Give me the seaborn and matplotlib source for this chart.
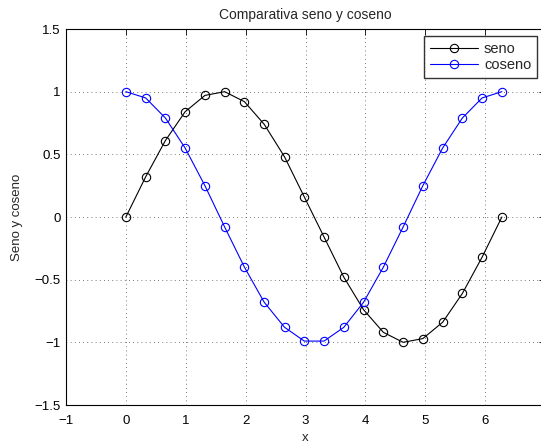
import matplotlib
matplotlib.use("Agg")
import matplotlib.pyplot as plt
import seaborn as sns
import pandas as pd

x = [0.0, 0.33, 0.66, 0.99, 1.32, 1.65, 1.98, 2.31, 2.65, 2.98,
     3.31, 3.64, 3.97, 4.30, 4.63, 4.96, 5.29, 5.62, 5.95, 6.28]
seno = [0.0, 0.32, 0.61, 0.84, 0.97, 1.00, 0.92, 0.74, 0.48, 0.16,
        -0.16, -0.48, -0.74, -0.92, -1.00, -0.97, -0.84, -0.61, -0.32, 0.0]
coseno = [1.0, 0.95, 0.79, 0.55, 0.25, -0.08, -0.40, -0.68, -0.88, -0.99,
          -0.99, -0.88, -0.68, -0.40, -0.08, 0.25, 0.55, 0.79, 0.95, 1.0]
xticks = [-1, 0, 1, 2, 3, 4, 5, 6, 7]
yticks = [-1.5, -1, -0.5, 0, 0.5, 1, 1.5]
ytick_labels = ["\u22121.5", "\u22121", "\u22120.5", "0", "0.5", "1", "1.5"]
xtick_labels = ["\u22121", "0", "1", "2", "3", "4", "5", "6", ""]

sns.set_style("white")
plt.rcParams['font.family'] = ['Liberation Sans', 'DejaVu Sans']

fig = plt.figure(figsize=(5.41, 4.43), dpi=100)
ax = fig.add_axes([66/541, 1-405/443, 479/541, 376/443])

df = pd.DataFrame({"x": x, "seno": seno, "coseno": coseno})
sns.lineplot(data=df, x="x", y="seno", ax=ax, color="black", marker="o",
             markersize=6, markerfacecolor="none", markeredgecolor="black",
             markeredgewidth=0.8, linewidth=0.8, label="seno")
sns.lineplot(data=df, x="x", y="coseno", ax=ax, color="blue", marker="o",
             markersize=6, markerfacecolor="none", markeredgecolor="blue",
             markeredgewidth=0.8, linewidth=0.8, label="coseno")

fs = 9.5
ax.set_xlim(-1, 7)
ax.set_ylim(-1.5, 1.5)
ax.set_xticks(xticks)
ax.set_xticklabels(xtick_labels)
ax.set_yticks(yticks)
ax.set_yticklabels(ytick_labels)
ax.tick_params(direction="in", length=4, width=0.6, labelsize=fs, colors="black",
               top=True, right=True)
ax.tick_params(axis="x", pad=7)
ax.tick_params(axis="y", pad=4)
ax.grid(True, linestyle=(0, (1, 4)), color="black", linewidth=0.6, alpha=0.7)
for s in ax.spines.values():
    s.set_color("black")
    s.set_linewidth(0.8)
ax.set_xlabel("x", fontsize=fs, labelpad=4)
ax.set_ylabel("Seno y coseno", fontsize=fs, labelpad=8)
ax.set_title("Comparativa seno y coseno", fontsize=10, pad=7)

leg = ax.legend(loc="upper right", bbox_to_anchor=(537/541, 1-36/443),
                bbox_transform=fig.transFigure, fontsize=fs + 1, frameon=True,
                fancybox=False, edgecolor="black", borderpad=0.4,
                handlelength=3.3, handletextpad=0.4, labelspacing=0.15,
                borderaxespad=0)
leg.get_frame().set_linewidth(1.0)

fig.savefig("out.png", dpi=100)
